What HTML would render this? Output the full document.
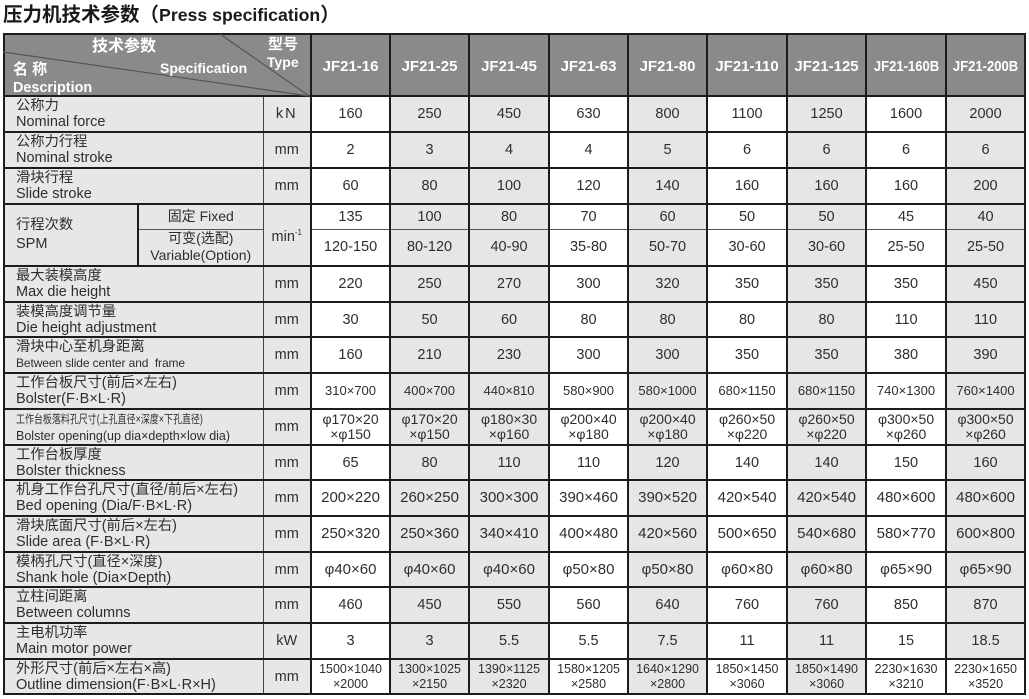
<!DOCTYPE html>
<html>
<head>
<meta charset="utf-8">
<style>
html,body{margin:0;padding:0;}
body{width:1029px;height:699px;background:#fff;position:relative;overflow:hidden;font-family:"Liberation Sans","Noto Sans CJK SC",sans-serif;color:#333;}
.title{position:absolute;left:3px;top:2px;font-weight:bold;font-size:19.5px;color:#1a1a1a;white-space:nowrap;line-height:26px;font-family:"Liberation Sans","Noto Sans CJK SC",sans-serif;}
.title .en{font-size:17.7px;}
table{position:absolute;left:3px;top:33px;border-collapse:collapse;table-layout:fixed;width:1021px;}
td{border:2px solid #1c1c1c;padding:0;text-align:center;vertical-align:middle;overflow:hidden;white-space:nowrap;font-size:14.5px;color:#2e2e2e;line-height:16px;}
col.w{background:#fff;}
col.g{background:#e6e6e6;}
tr.h td{background:#8a8a8a;color:#fff;font-weight:bold;font-size:15px;padding-top:3px;}
tr.h td .nb{display:inline-block;transform:scaleX(0.87);}
td.l{text-align:left;padding-left:11px;background:#e7e7e7;line-height:16px;border-right:1px solid #444;}
td.l .cn{font-size:14.3px;}
td.l .en{font-size:14.5px;}
td.u{background:#e7e7e7;border-left:1px solid #444;}
td.s{font-size:13px;}
td.o{font-size:12.5px;line-height:15px;}
td.b{font-size:14px;line-height:15px;}
td.m{font-size:15px;}
tr.fx td{border-bottom:1px solid #555;}
tr.vr td{border-top:1px solid #555;}
td.spm{background:#e7e7e7;text-align:left;padding-left:11px;line-height:19px;font-size:14.3px;border-right:2px solid #1c1c1c;}
td.sub{background:#e7e7e7;font-size:14px;line-height:17px;border-left:2px solid #1c1c1c;border-right:1px solid #444;}
.hd{position:absolute;color:#fff;font-weight:bold;white-space:nowrap;}
.white{background:#fff !important;}
</style>
</head>
<body>
<div class="title">压力机技术参数（<span class="en">Press specification</span>）</div>

<table>
<colgroup>
<col style="width:134px"><col style="width:125px"><col style="width:48px">
<col class="w" style="width:79px"><col class="g" style="width:79px"><col class="g" style="width:80px"><col class="w" style="width:79px"><col class="g" style="width:79px"><col class="w" style="width:80px"><col class="g" style="width:79px"><col class="w" style="width:80px"><col class="g" style="width:79px">
</colgroup>
<tr class="h" style="height:62px"><td colspan="3"></td><td>JF21-16</td><td>JF21-25</td><td>JF21-45</td><td>JF21-63</td><td>JF21-80</td><td>JF21-110</td><td>JF21-125</td><td><span class="nb">JF21-160B</span></td><td><span class="nb">JF21-200B</span></td></tr>
<tr style="height:36px"><td class="l" colspan="2"><div class="cn">公称力</div><div class="en">Nominal force</div></td><td class="u" style="letter-spacing:2px">kN</td><td>160</td><td>250</td><td>450</td><td>630</td><td>800</td><td>1100</td><td>1250</td><td>1600</td><td>2000</td></tr>
<tr style="height:36px"><td class="l" colspan="2"><div class="cn">公称力行程</div><div class="en">Nominal stroke</div></td><td class="u">mm</td><td>2</td><td>3</td><td>4</td><td>4</td><td>5</td><td>6</td><td>6</td><td>6</td><td>6</td></tr>
<tr style="height:36px"><td class="l" colspan="2"><div class="cn">滑块行程</div><div class="en">Slide stroke</div></td><td class="u">mm</td><td>60</td><td>80</td><td>100</td><td>120</td><td>140</td><td>160</td><td>160</td><td>160</td><td>200</td></tr>
<tr class="fx" style="height:25px"><td class="spm" rowspan="2"><div>行程次数</div><div style="font-size:14.5px">SPM</div></td><td class="sub">固定 Fixed</td><td class="u" rowspan="2" style="border-bottom:2px solid #1c1c1c">min<sup style="font-size:8px">-1</sup></td><td>135</td><td>100</td><td>80</td><td>70</td><td>60</td><td>50</td><td>50</td><td>45</td><td>40</td></tr>
<tr class="vr" style="height:37px"><td class="sub"><div>可变(选配)</div><div>Variable(Option)</div></td><td>120-150</td><td>80-120</td><td>40-90</td><td>35-80</td><td>50-70</td><td>30-60</td><td>30-60</td><td>25-50</td><td>25-50</td></tr>
<tr style="height:36px"><td class="l" colspan="2"><div class="cn">最大装模高度</div><div class="en">Max die height</div></td><td class="u">mm</td><td>220</td><td>250</td><td>270</td><td>300</td><td>320</td><td>350</td><td>350</td><td>350</td><td>450</td></tr>
<tr style="height:35px"><td class="l" colspan="2"><div class="cn">装模高度调节量</div><div class="en">Die height adjustment</div></td><td class="u">mm</td><td>30</td><td>50</td><td>60</td><td>80</td><td>80</td><td>80</td><td>80</td><td>110</td><td>110</td></tr>
<tr style="height:36px"><td class="l" colspan="2"><div class="cn">滑块中心至机身距离</div><div class="en" style="font-size:12px;letter-spacing:-0.1px">Between slide center and&nbsp; frame</div></td><td class="u">mm</td><td>160</td><td>210</td><td>230</td><td>300</td><td>300</td><td>350</td><td>350</td><td>380</td><td>390</td></tr>
<tr style="height:36px"><td class="l" colspan="2"><div class="cn">工作台板尺寸(前后×左右)</div><div class="en">Bolster(F·B×L·R)</div></td><td class="u">mm</td><td class="s">310×700</td><td class="s">400×700</td><td class="s">440×810</td><td class="s">580×900</td><td class="s">580×1000</td><td class="s">680×1150</td><td class="s">680×1150</td><td class="s">740×1300</td><td class="s">760×1400</td></tr>
<tr style="height:36px"><td class="l" colspan="2"><div class="cn"><span style="display:inline-block;font-size:11.5px;transform:scaleX(0.78);transform-origin:left;">工作台板落料孔尺寸(上孔直径×深度×下孔直径)</span></div><div class="en" style="font-size:12.5px">Bolster opening(up dia×depth×low dia)</div></td><td class="u">mm</td><td class="b">φ170×20<br>×φ150</td><td class="b">φ170×20<br>×φ150</td><td class="b">φ180×30<br>×φ160</td><td class="b">φ200×40<br>×φ180</td><td class="b">φ200×40<br>×φ180</td><td class="b">φ260×50<br>×φ220</td><td class="b">φ260×50<br>×φ220</td><td class="b">φ300×50<br>×φ260</td><td class="b">φ300×50<br>×φ260</td></tr>
<tr style="height:35px"><td class="l" colspan="2"><div class="cn">工作台板厚度</div><div class="en">Bolster thickness</div></td><td class="u">mm</td><td>65</td><td>80</td><td>110</td><td>110</td><td>120</td><td>140</td><td>140</td><td>150</td><td>160</td></tr>
<tr style="height:36px"><td class="l" colspan="2"><div class="cn">机身工作台孔尺寸(直径/前后×左右)</div><div class="en">Bed opening (Dia/F·B×L·R)</div></td><td class="u">mm</td><td class="m">200×220</td><td class="m">260×250</td><td class="m">300×300</td><td class="m">390×460</td><td class="m">390×520</td><td class="m">420×540</td><td class="m">420×540</td><td class="m">480×600</td><td class="m">480×600</td></tr>
<tr style="height:36px"><td class="l" colspan="2"><div class="cn">滑块底面尺寸(前后×左右)</div><div class="en">Slide area (F·B×L·R)</div></td><td class="u">mm</td><td class="m">250×320</td><td class="m">250×360</td><td class="m">340×410</td><td class="m">400×480</td><td class="m">420×560</td><td class="m">500×650</td><td class="m">540×680</td><td class="m">580×770</td><td class="m">600×800</td></tr>
<tr style="height:35px"><td class="l" colspan="2"><div class="cn">模柄孔尺寸(直径×深度)</div><div class="en">Shank hole (Dia×Depth)</div></td><td class="u">mm</td><td class="m">φ40×60</td><td class="m">φ40×60</td><td class="m">φ40×60</td><td class="m">φ50×80</td><td class="m">φ50×80</td><td class="m">φ60×80</td><td class="m">φ60×80</td><td class="m">φ65×90</td><td class="m">φ65×90</td></tr>
<tr style="height:36px"><td class="l" colspan="2"><div class="cn">立柱间距离</div><div class="en">Between columns</div></td><td class="u">mm</td><td>460</td><td>450</td><td>550</td><td>560</td><td>640</td><td>760</td><td>760</td><td>850</td><td>870</td></tr>
<tr style="height:36px"><td class="l" colspan="2"><div class="cn">主电机功率</div><div class="en">Main motor power</div></td><td class="u">kW</td><td>3</td><td>3</td><td>5.5</td><td>5.5</td><td>7.5</td><td>11</td><td>11</td><td>15</td><td>18.5</td></tr>
<tr style="height:35px"><td class="l" colspan="2"><div class="cn">外形尺寸(前后×左右×高)</div><div class="en">Outline dimension(F·B×L·R×H)</div></td><td class="u">mm</td><td class="o">1500×1040<br>×2000</td><td class="o">1300×1025<br>×2150</td><td class="o">1390×1125<br>×2320</td><td class="o">1580×1205<br>×2580</td><td class="o">1640×1290<br>×2800</td><td class="o">1850×1450<br>×3060</td><td class="o">1850×1490<br>×3060</td><td class="o">2230×1630<br>×3210</td><td class="o white">2230×1650<br>×3520</td></tr>
</table>

<svg style="position:absolute;left:3px;top:33px" width="308" height="64">
<line x1="0" y1="19" x2="306" y2="63" stroke="#555" stroke-width="1.2"/>
<line x1="217" y1="1" x2="306" y2="63" stroke="#555" stroke-width="1.2"/>
</svg>
<div class="hd" style="left:92px;top:38px;font-size:16px;line-height:18px;">技术参数</div>
<div class="hd" style="left:268px;top:36px;font-size:15px;line-height:18px;">型号</div>
<div class="hd" style="left:267px;top:54px;font-size:14px;line-height:17px;">Type</div>
<div class="hd" style="left:160px;top:60px;font-size:14px;line-height:17px;">Specification</div>
<div class="hd" style="left:13px;top:61px;font-size:15px;line-height:18px;">名 称</div>
<div class="hd" style="left:13px;top:80px;font-size:14.4px;line-height:17px;">Description</div>
</body>
</html>
